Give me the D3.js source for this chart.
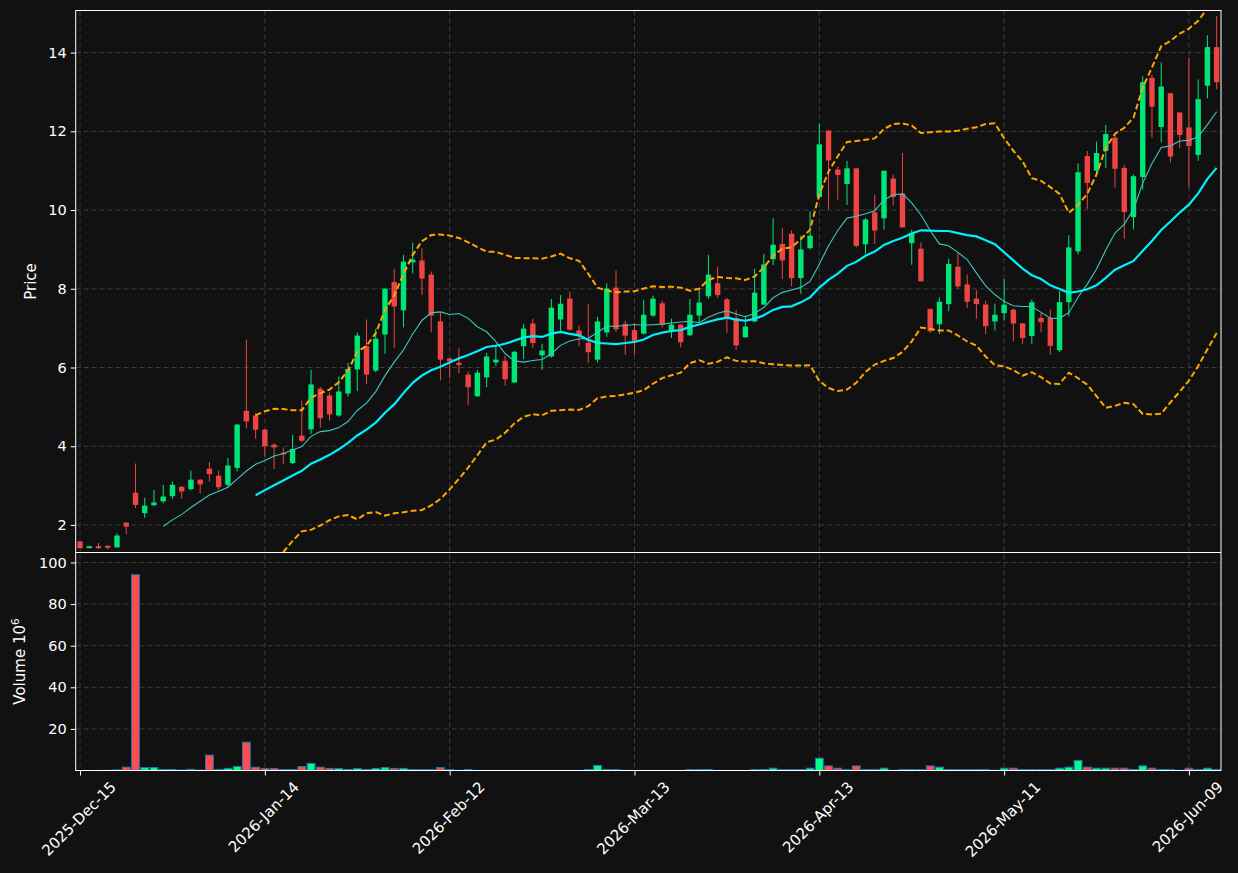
<!DOCTYPE html>
<html>
<head>
<meta charset="utf-8">
<script src="https://cdn.jsdelivr.net/npm/d3@7"></script>
<style>
body{margin:0;background:#111111;}
svg{display:block;font-family:"DejaVu Sans",sans-serif;}
</style>
</head>
<body>
<div id="chart"></div>
<script>
// daily bars, index 0 = 2025-12-15
var opens = [1.58,1.41,1.46,1.47,1.43,2.06,2.82,2.30,2.50,2.60,
    2.73,2.97,2.91,3.15,3.43,3.25,3.02,3.45,4.90,4.78,
    4.42,4.04,3.83,3.57,4.27,4.43,5.46,5.29,4.78,5.34,
    5.95,6.54,5.92,6.84,8.17,7.45,8.67,8.72,8.36,7.17,
    6.23,6.12,5.82,5.27,5.75,6.13,6.17,5.62,6.54,7.12,
    6.31,6.28,7.22,7.75,6.94,6.63,6.20,6.89,8.03,7.11,
    6.95,6.86,7.32,7.63,6.94,7.09,6.82,7.32,7.81,8.14,
    7.73,7.26,6.77,7.17,7.60,8.75,9.14,9.40,8.27,9.03,
    10.33,12.02,11.03,10.66,11.06,9.13,9.94,9.79,10.80,10.42,
    9.16,9.02,7.49,7.10,7.61,8.56,8.11,7.75,7.60,7.17,
    7.38,7.47,7.12,6.80,7.26,7.26,6.44,7.66,8.95,11.37,
    11.00,11.50,11.84,11.07,9.82,10.84,13.36,12.11,12.97,12.48,
    12.10,11.40,13.16,14.14]
var highs = [1.58,1.46,1.54,1.48,1.79,2.06,3.56,2.69,2.89,3.02,
    3.10,2.99,3.38,3.17,3.60,3.38,3.70,4.57,6.71,4.84,
    4.44,4.08,3.97,4.29,5.16,5.94,5.51,5.37,5.77,6.12,
    6.89,7.22,6.98,8.02,8.51,8.86,9.17,9.03,8.44,7.40,
    6.25,6.50,5.90,5.94,6.37,6.54,6.30,6.42,7.11,7.24,
    6.60,7.74,7.84,7.93,7.07,7.62,7.29,8.14,8.46,7.19,
    7.12,7.72,7.83,7.70,7.24,7.10,7.74,7.97,8.86,8.56,
    7.77,7.46,7.32,8.51,8.89,9.80,9.55,9.48,9.35,9.97,
    12.19,12.02,11.11,11.25,11.08,9.80,10.39,11.00,10.90,11.45,
    9.50,9.18,7.49,7.78,8.76,8.93,8.36,7.97,7.70,7.62,
    8.25,7.50,7.13,7.73,7.39,7.48,7.94,9.36,11.19,11.50,
    11.74,12.16,11.95,11.15,10.90,13.40,13.43,13.75,12.97,12.48,
    13.88,13.32,14.44,14.93]
var lows = [1.41,1.41,1.39,1.38,1.43,1.77,2.43,2.18,2.48,2.55,
    2.66,2.66,2.88,2.80,3.10,2.89,2.97,3.36,4.45,4.19,
    3.72,3.42,3.55,3.55,4.10,4.31,4.47,4.65,4.75,5.26,
    5.40,5.58,5.88,6.35,6.50,7.02,8.39,7.84,6.89,5.67,
    5.74,5.86,5.05,5.25,5.50,6.04,5.54,5.60,6.22,6.50,
    5.94,6.25,6.92,6.93,6.54,6.11,6.13,6.78,6.90,6.32,
    6.33,6.84,7.28,7.02,6.75,6.51,6.80,7.15,7.74,7.77,
    6.88,6.45,6.75,7.15,7.58,8.60,8.25,8.06,7.87,9.00,
    10.30,10.01,10.26,10.13,9.05,8.89,9.14,9.50,10.11,9.55,
    8.61,8.19,6.88,6.85,7.43,8.00,7.51,7.24,6.85,6.94,
    7.19,6.67,6.60,6.60,6.89,6.32,6.39,7.30,8.87,10.03,
    10.85,11.07,10.57,9.27,9.51,10.52,11.84,11.72,11.21,11.57,
    10.57,11.25,12.84,13.07]
var closes = [1.41,1.46,1.41,1.42,1.73,1.96,2.51,2.49,2.57,2.72,
    3.02,2.85,3.15,3.03,3.29,2.96,3.51,4.55,4.63,4.42,
    4.00,3.97,3.79,3.93,4.14,5.57,4.71,4.81,5.39,5.96,
    6.81,5.82,6.73,8.00,7.55,8.69,8.74,8.26,7.32,6.20,
    6.16,6.06,5.50,5.87,6.28,6.20,5.70,6.40,6.99,6.62,
    6.43,7.52,7.62,6.96,6.80,6.39,7.17,8.01,6.97,6.81,
    6.68,7.34,7.75,7.09,7.09,6.64,7.34,7.65,8.36,7.84,
    7.28,6.56,7.04,7.90,8.62,9.12,8.72,8.27,9.00,9.35,
    11.67,11.26,10.89,11.06,9.09,9.76,9.48,11.00,10.33,9.56,
    9.40,8.19,6.92,7.67,8.63,8.06,7.67,7.61,7.05,7.34,
    7.60,7.12,6.75,7.66,7.15,6.55,7.66,9.05,10.96,10.69,
    11.45,11.93,11.05,9.95,10.86,13.25,12.63,13.14,11.36,11.91,
    11.63,12.82,14.14,13.25]
// volume in millions
var volumes = [0,0,0,0.1,0.3,1.6,94.1,1.4,1.4,0.5,
    0.5,0.2,0.6,0.2,7.4,0.5,1.0,1.9,13.6,1.6,
    1.0,1.0,0.5,0.5,1.9,3.4,1.6,1.0,1.0,0.5,
    1.0,0.5,1.0,1.4,1.0,1.0,0.5,0.5,0.5,1.4,
    0.5,0.1,0.5,0.05,0.05,0.05,0.05,0.05,0.05,0.05,
    0.05,0.05,0.05,0.05,0.05,0.5,2.4,0.5,0.5,0.1,
    0.05,0.05,0.05,0.05,0.05,0.05,0.5,0.5,0.5,0.05,
    0.05,0.05,0.05,0.5,0.5,1.1,0.5,0.5,0.5,1.1,
    5.9,2.2,1.1,0.5,2.2,0.5,0.5,1.1,0.1,0.5,
    0.5,0.5,2.2,1.6,0.5,0.5,0.5,0.5,0.5,0.1,
    1.1,1.1,0.5,0.5,0.5,0.5,1.1,1.6,4.8,1.6,
    1.1,1.1,1.1,1.1,0.5,2.2,1.1,0.5,0.5,0.1,
    1.1,0.5,1.1,0.5]

var tickIndex = [0,20,40,60,80,100,120]
var tickLabels = ['2025-Dec-15','2026-Jan-14','2026-Feb-12','2026-Mar-13','2026-Apr-13','2026-May-11','2026-Jun-09']
var priceTicks = [2,4,6,8,10,12,14]
var volumeTicks = [20,40,60,80,100]

var upColor = '#00e676', downColor = '#ef4444'
var upVol = '#00ff88', downVol = '#ff4d4d'
var gridColor = '#3c3c3c'

var plotLeft = 75.7, plotRight = 1221, plotTop = 10.5, plotMid = 552.5, plotBottom = 770.5

var svg = d3.select('#chart')
    .append('svg')
    .attr('width', 1238)
    .attr('height', 873)
svg.append('rect')
    .attr('width', 1238)
    .attr('height', 873)
    .attr('fill', '#111111')

var x = d3.scaleLinear().domain([-0.47, 123.47]).range([plotLeft, plotRight])
var yPrice = d3.scaleLinear().domain([1.30, 15.07]).range([plotMid, plotTop])
var yVol = d3.scaleLinear().domain([0, 104.8]).range([plotBottom, plotMid])

svg.append('clipPath').attr('id', 'clipPrice')
    .append('rect').attr('x', plotLeft).attr('y', plotTop)
    .attr('width', plotRight - plotLeft).attr('height', plotMid - plotTop)
svg.append('clipPath').attr('id', 'clipVol')
    .append('rect').attr('x', plotLeft).attr('y', plotMid)
    .attr('width', plotRight - plotLeft).attr('height', plotBottom - plotMid)

// grid
var grid = svg.append('g')
    .attr('stroke', gridColor)
    .attr('stroke-width', 1)
    .attr('stroke-dasharray', '5,3')
grid.selectAll('.vg').data(tickIndex).enter().append('line')
    .attr('x1', function(d){ return x(d) }).attr('x2', function(d){ return x(d) })
    .attr('y1', plotTop).attr('y2', plotBottom)
grid.selectAll('.hp').data(priceTicks).enter().append('line')
    .attr('x1', plotLeft).attr('x2', plotRight)
    .attr('y1', function(d){ return yPrice(d) }).attr('y2', function(d){ return yPrice(d) })
grid.selectAll('.hv').data(volumeTicks).enter().append('line')
    .attr('x1', plotLeft).attr('x2', plotRight)
    .attr('y1', function(d){ return yVol(d) }).attr('y2', function(d){ return yVol(d) })

// indicators from closes
function rolling(arr, n, fn){
    return arr.map(function(d, i){ return i < n - 1 ? null : fn(arr.slice(i - n + 1, i + 1)) })
}
var ma10 = rolling(closes, 10, d3.mean)
var ma20 = rolling(closes, 20, d3.mean)
var sd20 = rolling(closes, 20, d3.deviation)
var bbUpper = ma20.map(function(m, i){ return m == null ? null : m + 2 * sd20[i] })
var bbLower = ma20.map(function(m, i){ return m == null ? null : m - 2 * sd20[i] })

var line = d3.line()
    .defined(function(d){ return d != null })
    .x(function(d, i){ return x(i) })
    .y(function(d){ return yPrice(d) })

var pricePanel = svg.append('g').attr('clip-path', 'url(#clipPrice)')

// candles
var candles = pricePanel.selectAll('.candle').data(closes).enter().append('g')
candles.append('line')
    .attr('x1', function(d, i){ return x(i) }).attr('x2', function(d, i){ return x(i) })
    .attr('y1', function(d, i){ return yPrice(highs[i]) })
    .attr('y2', function(d, i){ return yPrice(lows[i]) })
    .attr('stroke', function(d, i){ return d >= opens[i] ? upColor : downColor })
    .attr('stroke-width', 1)
candles.append('rect')
    .attr('x', function(d, i){ return x(i) - 2.7 })
    .attr('width', 5.4)
    .attr('y', function(d, i){ return yPrice(Math.max(d, opens[i])) })
    .attr('height', function(d, i){ return Math.max(1, Math.abs(yPrice(d) - yPrice(opens[i]))) })
    .attr('fill', function(d, i){ return d >= opens[i] ? upColor : downColor })

pricePanel.append('path').datum(ma10)
    .attr('d', line).attr('fill', 'none')
    .attr('stroke', '#3cc8c0').attr('stroke-width', 1.1)
pricePanel.append('path').datum(ma20)
    .attr('d', line).attr('fill', 'none')
    .attr('stroke', '#00f0ff').attr('stroke-width', 2.2)
pricePanel.append('path').datum(bbUpper)
    .attr('d', line).attr('fill', 'none')
    .attr('stroke', '#ffa500').attr('stroke-width', 2).attr('stroke-dasharray', '6,3')
pricePanel.append('path').datum(bbLower)
    .attr('d', line).attr('fill', 'none')
    .attr('stroke', '#ffa500').attr('stroke-width', 2).attr('stroke-dasharray', '6,3')

// volume
svg.append('g').attr('clip-path', 'url(#clipVol)')
    .selectAll('rect').data(volumes).enter().append('rect')
    .attr('x', function(d, i){ return x(i) - 3.9 })
    .attr('width', 7.8)
    .attr('y', function(d){ return yVol(d) })
    .attr('height', function(d){ return yVol(0) - yVol(d) })
    .attr('fill', function(d, i){ return closes[i] >= opens[i] ? upVol : downVol })
    .attr('stroke', '#1f77b4')
    .attr('stroke-width', 1)

// frames
svg.append('rect').attr('x', plotLeft).attr('y', plotTop)
    .attr('width', plotRight - plotLeft).attr('height', plotBottom - plotTop)
    .attr('fill', 'none').attr('stroke', '#ffffff').attr('stroke-width', 1)
svg.append('line').attr('x1', plotLeft).attr('x2', plotRight)
    .attr('y1', plotMid).attr('y2', plotMid)
    .attr('stroke', '#ffffff').attr('stroke-width', 1.2)

// axes
function styleAxis(g){
    g.select('.domain').remove()
    g.selectAll('line').attr('stroke', '#ffffff')
    g.selectAll('text').attr('fill', '#ffffff').attr('font-size', 14.5)
        .attr('font-family', '"DejaVu Sans",sans-serif')
}
svg.append('g').attr('transform', 'translate(' + plotLeft + ',0)')
    .call(d3.axisLeft(yPrice).tickValues(priceTicks).tickSize(5).tickPadding(4))
    .call(styleAxis)
svg.append('g').attr('transform', 'translate(' + plotLeft + ',0)')
    .call(d3.axisLeft(yVol).tickValues(volumeTicks).tickSize(5).tickPadding(4))
    .call(styleAxis)
svg.append('g').attr('transform', 'translate(0,' + plotBottom + ')')
    .call(d3.axisBottom(x).tickValues(tickIndex).tickSize(5).tickFormat(''))
    .call(styleAxis)

var xl = svg.append('g')
tickIndex.forEach(function(t, k){
    var txt = xl.append('text')
        .text(tickLabels[k])
        .attr('font-size', 15)
        .attr('fill', '#ffffff')
        .attr('text-anchor', 'middle')
        .attr('dominant-baseline', 'central')
    var L = txt.node().getComputedTextLength()
    var half = (L + 17) * Math.SQRT1_2 / 2
    var cx = x(t) - 1, cy = plotBottom + 8 + half
    txt.attr('x', cx).attr('y', cy)
        .attr('transform', 'rotate(-45,' + cx + ',' + cy + ')')
})

// axis titles
svg.append('text')
    .attr('transform', 'translate(36,' + ((plotTop + plotMid) / 2) + ') rotate(-90)')
    .attr('text-anchor', 'middle')
    .attr('fill', '#ffffff')
    .attr('font-size', 15)
    .text('Price')
var vt = svg.append('text')
    .attr('transform', 'translate(25,' + ((plotMid + plotBottom) / 2) + ') rotate(-90)')
    .attr('text-anchor', 'middle')
    .attr('fill', '#ffffff')
    .attr('font-size', 15)
vt.append('tspan').text('Volume  10')
vt.append('tspan').text('6').attr('font-size', 10.5).attr('dy', -6)
</script>
</body>
</html>
